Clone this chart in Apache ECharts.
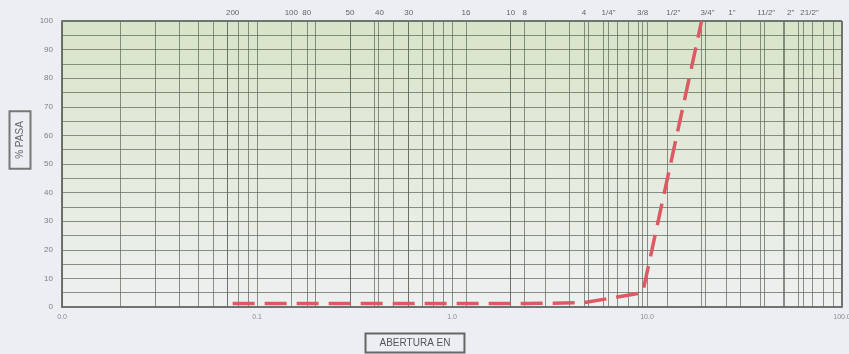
<!DOCTYPE html>
<html>
<head>
<meta charset="utf-8">
<script src="https://cdn.jsdelivr.net/npm/echarts@6/dist/echarts.min.js"></script>
<style>
  html, body { margin: 0; padding: 0; background: #eceef3; }
  #chart { width: 849px; height: 354px; }
</style>
</head>
<body>
<div id="chart"></div>
<script>
// Sieve openings (mm) and their names printed along the top edge
const sieveSizes = [0.075, 0.15, 0.18, 0.3, 0.425, 0.6, 1.18, 2.0, 2.36, 4.75, 6.35, 9.5, 12.7, 19.05, 25.4, 38.1, 50.8, 63.5];
const sieveLabels = ['200', '100', '80', '50', '40', '30', '16', '10', '8', '4', '1/4"', '3/8', '1/2"', '3/4"', '1"', '11/2"', '2"', '21/2"'];

// Grading curve: opening (mm) vs % passing
const curveSizes = [0.075, 0.15, 0.18, 0.3, 0.425, 0.6, 1.18, 2.0, 2.36, 4.75, 9.5, 19.05];
const curvePass = [1.2, 1.2, 1.2, 1.2, 1.2, 1.2, 1.2, 1.2, 1.2, 1.5, 5, 100];

// Log-paper rulings: 1..9 of every decade, plus the sieve openings
const decades = [0.01, 0.1, 1, 10];
const multiples = [1, 2, 3, 4, 5, 6, 7, 8, 9];

const rulings = [];
decades.forEach(d => multiples.forEach(m => rulings.push(+(d * m).toPrecision(6))));
rulings.push(100);
sieveSizes.forEach(s => rulings.push(s));

const chart = echarts.init(document.getElementById('chart'), null, { renderer: 'canvas' });

const gridColor = 'rgba(95,105,92,0.72)';

chart.setOption({
  backgroundColor: '#eceef3',
  animation: false,
  grid: {
    left: 62, right: 7, top: 21, bottom: 47,
    outerBoundsMode: 'none',
    containLabel: false,
    show: true,
    borderWidth: 0,
    backgroundColor: new echarts.graphic.LinearGradient(0, 0, 0, 1, [
      { offset: 0, color: '#d8e4c8' },
      { offset: 0.45, color: '#e3eadb' },
      { offset: 1, color: '#eef0f1' }
    ])
  },
  xAxis: {
    type: 'log',
    logBase: 10,
    min: 0.01,
    max: 100,
    axisLine: { show: true, lineStyle: { color: '#6f746e', width: 2 } },
    axisTick: { show: false },
    splitLine: { show: false },
    axisLabel: {
      color: '#8a8d90',
      fontSize: 7,
      fontFamily: 'Liberation Sans',
      margin: 7,
      hideOverlap: false,
      formatter: v => v.toFixed(1)
    }
  },
  yAxis: {
    type: 'value',
    min: 0,
    max: 100,
    interval: 10,
    axisLine: { show: true, lineStyle: { color: '#6f746e', width: 2 } },
    axisTick: { show: false },
    axisLabel: {
      color: '#7d8084',
      fontSize: 8,
      fontFamily: 'Liberation Sans',
      margin: 9
    },
    splitLine: { show: true, lineStyle: { color: gridColor, width: 1 } },
    minorTick: { show: false, splitNumber: 2 },
    minorSplitLine: { show: true, lineStyle: { color: gridColor, width: 1 } }
  },
  graphic: [
    {
      type: 'text',
      x: 20, y: 140,
      rotation: Math.PI / 2,
      style: {
        text: '% PASA',
        fontSize: 10,
        fontFamily: 'Liberation Sans',
        fill: '#666',
        align: 'center',
        verticalAlign: 'middle',
        borderColor: '#777',
        borderWidth: 1,
        padding: [6, 10, 5, 10],
        backgroundColor: 'transparent'
      }
    },
    {
      type: 'text',
      x: 415, y: 343,
      style: {
        text: 'ABERTURA EN',
        fontSize: 10,
        fontFamily: 'Liberation Sans',
        fill: '#555',
        align: 'center',
        verticalAlign: 'middle',
        borderColor: '#666',
        borderWidth: 1,
        padding: [5, 14, 4, 14],
        backgroundColor: 'transparent'
      }
    }
  ],
  series: [
    {
      // vertical rulings of the log paper
      type: 'line',
      data: [],
      silent: true,
      markLine: {
        silent: true,
        symbol: ['none', 'none'],
        label: { show: false },
        lineStyle: { color: gridColor, width: 1, type: 'solid' },
        data: rulings.map(v => ({ xAxis: v }))
      }
    },
    {
      // outer frame: top and right edges
      type: 'line',
      data: [],
      silent: true,
      markLine: {
        silent: true,
        symbol: ['none', 'none'],
        label: { show: false },
        lineStyle: { color: '#6f746e', width: 2, type: 'solid' },
        data: [{ yAxis: 100 }, { xAxis: 100 }]
      }
    },
    {
      // sieve names along the top
      type: 'scatter',
      symbolSize: 0,
      silent: true,
      data: sieveSizes.map((s, i) => ({ value: [s, 100], name: sieveLabels[i] })),
      label: {
        show: true,
        position: 'top',
        distance: 4,
        color: '#3c3f44',
        fontSize: 8,
        fontFamily: 'Liberation Sans',
        formatter: p => p.name
      },
      labelLayout: p => {
        const v = sieveSizes[p.dataIndex];
        return v > 10 ? { dx: 6 } : {};
      }
    },
    {
      name: 'Curva granulométrica',
      type: 'line',
      data: curveSizes.map((s, i) => [s, curvePass[i]]),
      showSymbol: false,
      smooth: false,
      z: 5,
      lineStyle: {
        color: '#dc5a63',
        width: 3.5,
        type: [22, 10],
        cap: 'butt'
      }
    }
  ]
});
</script>
</body>
</html>
